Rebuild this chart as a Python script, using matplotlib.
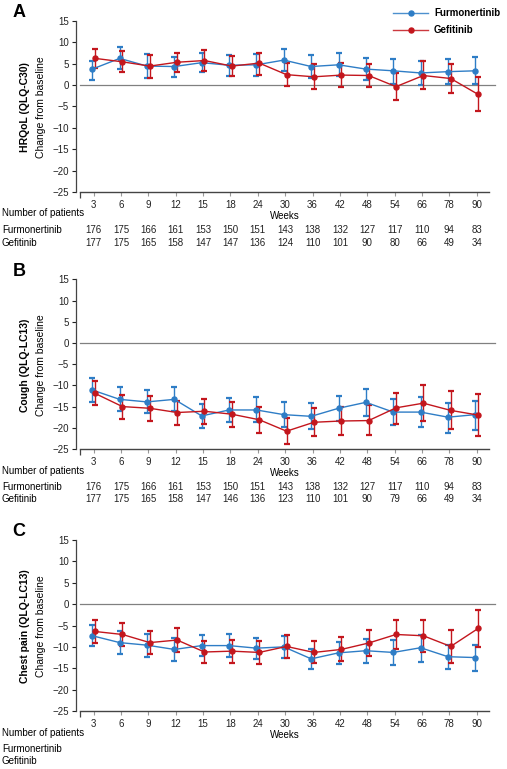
import matplotlib
matplotlib.use('Agg')
import matplotlib.pyplot as plt
import matplotlib.transforms as mtransforms

plt.rcParams['font.family'] = ['Liberation Sans', 'DejaVu Sans']

# Data
weeks = ['3', '6', '9', '12', '15', '18', '24', '30', '36', '42', '48', '54', '66', '78', '90']

# A - HRQoL
a_furm = [3.7, 6.2, 4.4, 4.3, 5.2, 4.6, 4.7, 5.8, 4.3, 4.7, 3.7, 3.3, 2.8, 3.1, 3.3]
a_furm_lo = [1.2, 3.7, 1.6, 1.9, 3.0, 2.2, 2.2, 3.2, 1.6, 2.2, 1.2, 0.3, 0.0, 0.2, 0.2]
a_furm_hi = [5.7, 8.9, 7.2, 6.5, 7.5, 7.1, 7.2, 8.4, 7.1, 7.4, 6.4, 6.1, 5.5, 6.0, 6.5]
a_gef = [6.2, 5.4, 4.4, 5.3, 5.7, 4.4, 5.1, 2.4, 1.9, 2.3, 2.2, -0.4, 2.2, 1.5, -2.2]
a_gef_lo = [4.0, 3.0, 1.6, 3.0, 3.3, 2.0, 2.4, -0.2, -1.0, -0.5, -0.5, -3.5, -1.0, -1.9, -6.1]
a_gef_hi = [8.5, 7.9, 7.1, 7.5, 8.1, 6.8, 7.5, 5.1, 5.0, 5.1, 5.0, 2.9, 5.5, 4.9, 1.8]

# B - Cough
b_furm = [-11.1, -13.3, -13.9, -13.3, -17.2, -15.8, -15.8, -16.9, -17.3, -15.4, -14.0, -16.3, -16.3, -17.5, -16.9]
b_furm_lo = [-13.9, -16.0, -16.6, -16.1, -20.0, -18.7, -18.6, -19.8, -20.4, -18.3, -17.2, -19.4, -19.8, -21.2, -20.5]
b_furm_hi = [-8.2, -10.4, -11.1, -10.3, -14.3, -12.9, -12.8, -13.9, -14.2, -12.5, -10.9, -13.2, -12.7, -14.2, -13.6]
b_gef = [-11.9, -15.0, -15.4, -16.4, -16.1, -16.8, -18.1, -20.8, -18.7, -18.4, -18.3, -15.3, -14.2, -15.9, -17.0]
b_gef_lo = [-14.7, -17.9, -18.3, -19.3, -19.1, -19.8, -21.2, -23.8, -22.0, -21.7, -21.8, -19.0, -18.4, -20.4, -22.0]
b_gef_hi = [-9.0, -12.3, -12.5, -13.7, -13.2, -13.9, -15.2, -17.6, -15.4, -15.1, -14.7, -11.7, -9.8, -11.4, -12.0]

# C - Chest pain
c_furm = [-7.4, -9.0, -9.6, -10.6, -9.7, -9.7, -10.3, -10.0, -12.8, -11.4, -10.9, -11.3, -10.2, -12.3, -12.5]
c_furm_lo = [-9.9, -11.7, -12.3, -13.3, -12.1, -12.4, -12.8, -12.7, -15.2, -14.0, -13.8, -14.3, -13.5, -15.1, -15.7]
c_furm_hi = [-4.9, -6.4, -7.1, -8.0, -7.3, -7.1, -7.9, -7.4, -10.6, -8.8, -8.2, -8.3, -7.2, -9.6, -9.5]
c_gef = [-6.4, -7.1, -9.0, -8.4, -11.2, -11.0, -11.3, -9.9, -11.3, -10.6, -9.1, -7.1, -7.4, -9.9, -5.7]
c_gef_lo = [-9.0, -9.8, -11.7, -11.2, -13.7, -13.7, -14.0, -12.6, -13.8, -13.4, -12.2, -10.5, -11.3, -13.7, -10.0]
c_gef_hi = [-3.8, -4.3, -6.3, -5.7, -8.7, -8.4, -8.7, -7.3, -8.7, -7.8, -6.0, -3.6, -3.7, -6.1, -1.4]

# Number of patients
n_furm_a = [176, 175, 166, 161, 153, 150, 151, 143, 138, 132, 127, 117, 110, 94, 83]
n_gef_a = [177, 175, 165, 158, 147, 147, 136, 124, 110, 101, 90, 80, 66, 49, 34]
n_furm_b = [176, 175, 166, 161, 153, 150, 151, 143, 138, 132, 127, 117, 110, 94, 83]
n_gef_b = [177, 175, 165, 158, 147, 146, 136, 123, 110, 101, 90, 79, 66, 49, 34]

panel_labels = ['A', 'B', 'C']
score_labels = ['HRQoL (QLQ-C30)', 'Cough (QLQ-LC13)', 'Chest pain (QLQ-LC13)']
series_names = ['Furmonertinib', 'Gefitinib']

blue = '#2E7DC6'
red = '#C3161D'
axis_col = '#444444'

W, H = 507, 769
fig = plt.figure(figsize=(W / 100, H / 100), dpi=100)

# pixel boxes for the three panels: (top, bottom)
boxes = [(20.7, 192.0), (279.3, 449.0), (540.0, 711.0)]
x_left, x_right = 80, 489

panels = [
    (a_furm, a_furm_lo, a_furm_hi, a_gef, a_gef_lo, a_gef_hi, n_furm_a, n_gef_a),
    (b_furm, b_furm_lo, b_furm_hi, b_gef, b_gef_lo, b_gef_hi, n_furm_b, n_gef_b),
    (c_furm, c_furm_lo, c_furm_hi, c_gef, c_gef_lo, c_gef_hi, None, None),
]

x = list(range(len(weeks)))

for k, (top, bot) in enumerate(boxes):
    f, f_lo, f_hi, g, g_lo, g_hi, nf, ng = panels[k]
    ax = fig.add_axes([x_left / W, 1 - bot / H, (x_right - x_left) / W, (bot - top) / H])

    # zero line
    ax.axhline(0, xmin=0, xmax=1.015, color='#808080', lw=0.9, clip_on=False, zorder=1)

    # series with error bars
    for vals, lo, hi, col, dx in [(f, f_lo, f_hi, blue, -0.05), (g, g_lo, g_hi, red, 0.05)]:
        xs = [i + dx for i in x]
        err = [[v - l for v, l in zip(vals, lo)], [h - v for v, h in zip(vals, hi)]]
        ax.errorbar(xs, vals, yerr=err, color=col, ecolor=col, lw=1.0, elinewidth=1.0,
                    capsize=2.3, capthick=1.6, marker='o', markersize=3.6, zorder=3)

    ax.set_xlim(-0.5, 14.45)
    ax.set_ylim(-25, 15)
    ax.set_yticks(range(-25, 16, 5))
    ax.set_xticks(x)
    ax.set_xticklabels(weeks)
    ax.tick_params(labelsize=7, colors='#222222', length=3, width=0.8, pad=2)
    ax.tick_params(axis='x', colors='#999999', labelcolor='#222222', pad=3)

    for s in ['top', 'right']:
        ax.spines[s].set_visible(False)
    ax.spines['left'].set_position(('outward', 3))
    ax.spines['left'].set_color(axis_col)
    ax.spines['bottom'].set_color(axis_col)
    ax.spines['left'].set_linewidth(0.9)
    ax.spines['bottom'].set_linewidth(1.0)

    # left-end tick of the x axis
    ax.plot([-0.5], [-25], marker=3, markersize=4, mew=0.9, color=axis_col, clip_on=False)

    # panel letter and y labels
    fig.text(19 / W, 1 - (top - 8) / H, panel_labels[k], fontsize=13, fontweight='bold',
             ha='center', va='center')
    ymid = 1 - ((top + bot) / 2 + 1) / H
    fig.text(25 / W, ymid, score_labels[k], rotation=90, fontsize=7.5, fontweight='bold',
             ha='center', va='center')
    fig.text(40.5 / W, ymid, 'Change from baseline', rotation=90, fontsize=7.5,
             ha='center', va='center')

    # weeks label and number of patients table
    trans = mtransforms.blended_transform_factory(ax.transData, fig.transFigure)
    fig.text((x_left + x_right) / 2 / W, 1 - (bot + 24) / H, 'Weeks', fontsize=7,
             ha='center', va='center')
    fig.text(2 / W, 1 - (bot + 21.5) / H, 'Number of patients', fontsize=7, ha='left', va='center')
    fig.text(2 / W, 1 - (bot + 38) / H, series_names[0], fontsize=7, ha='left', va='center')
    fig.text(2 / W, 1 - (bot + 50.5) / H, series_names[1], fontsize=7, ha='left', va='center')
    if nf is not None:
        for i in x:
            ax.text(i, 1 - (bot + 38) / H, str(nf[i]), transform=trans, fontsize=7,
                    ha='center', va='center', color='#222222')
            ax.text(i, 1 - (bot + 50.5) / H, str(ng[i]), transform=trans, fontsize=7,
                    ha='center', va='center', color='#222222')

# Legend
for j, (name, col) in enumerate(zip(series_names, [blue, red])):
    yy = 1 - (13 + 17 * j) / H
    fig.lines.append(plt.Line2D([393 / W, 428 / W], [yy, yy], color=col, lw=1.0,
                                transform=fig.transFigure, alpha=0.85))
    fig.lines.append(plt.Line2D([411 / W], [yy], color=col, marker='o', markersize=3.6,
                                transform=fig.transFigure))
    fig.text(434 / W, yy, name, fontsize=7, fontweight='bold', ha='left', va='center')

plt.savefig('out.png', dpi=100)
plt.close()
